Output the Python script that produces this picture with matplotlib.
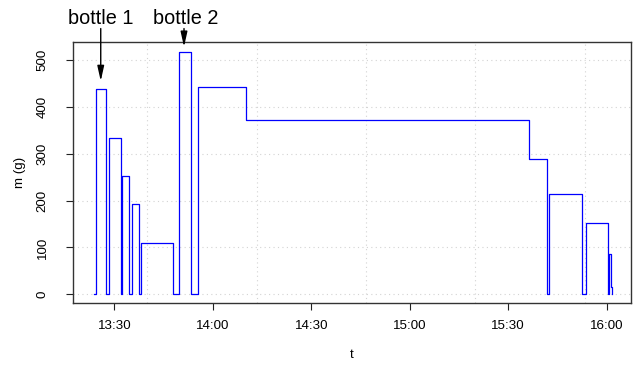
import matplotlib
matplotlib.use("Agg")
import matplotlib.pyplot as plt
import matplotlib.dates as mdates
import pandas as pd

plt.rcParams['font.family'] = ['Liberation Sans', 'DejaVu Sans']

day = "2020-01-01 "
times = ["13:23:44", "13:24:20", "13:27:28", "13:28:17", "13:31:57", "13:32:17",
         "13:34:34", "13:35:23", "13:37:37", "13:38:13", "13:47:47", "13:49:37",
         "13:53:27", "13:55:35", "14:10:07", "15:36:25", "15:41:48", "15:42:19",
         "15:52:33", "15:53:35", "16:00:17", "16:00:45", "16:01:18", "16:01:41"]
mass = [0, 437, 0, 333, 0, 253, 0, 193, 0, 109, 0, 518, 0, 443, 372, 288,
        0, 214, 0, 153, 0, 87, 15, 0]

tick_times = ["13:30", "14:00", "14:30", "15:00", "15:30", "16:00"]
grid_times = ["13:40:00", "14:13:20", "14:46:40", "15:20:00", "15:53:20"]
y_ticks = [0, 100, 200, 300, 400, 500]

labels = ["bottle 1", "bottle 2"]
label_x = ["13:25:45", "13:51:50"]
arrow_x = ["13:25:52", "13:51:14"]
arrow_tip = [455, 528]
arrow_start = 567
label_y = 576

t = pd.to_datetime([day + s for s in times])
fig = plt.figure(figsize=(6.35, 3.67), dpi=100)
ax = fig.add_axes([73/635, 1-303.3/367, (631-73)/635, (303.3-42.3)/367])

# grid
for g in grid_times:
    ax.axvline(pd.Timestamp(day + g), color='#d3d3d3', lw=0.8, ls=(0, (1, 3)), zorder=0)
for yv in y_ticks:
    ax.axhline(yv, color='#d3d3d3', lw=0.8, ls=(0, (1, 3)), zorder=0)

ax.plot(t, mass, drawstyle='steps-post', color='#0000ff', lw=0.9, zorder=2)

ax.set_xlim(pd.Timestamp(day + "13:17:25"), pd.Timestamp(day + "16:07:24"))
ax.set_ylim(-19.2, 537.7)

ax.set_xticks([pd.Timestamp(day + s) for s in tick_times])
ax.xaxis.set_major_formatter(mdates.DateFormatter('%H:%M'))
ax.set_yticks(y_ticks)
ax.set_yticklabels([str(v) for v in y_ticks], rotation=90, va='center')

ax.tick_params(axis='x', length=5, width=0.8, labelsize=9.6, pad=7.2, color='#222222')
ax.tick_params(axis='y', length=5, width=0.8, labelsize=9.6, pad=12.5, color='#222222')
for s in ax.spines.values():
    s.set_color('#333333')
    s.set_linewidth(1.0)

ax.set_ylabel('m (g)', fontsize=9.6, va='center')
ax.yaxis.set_label_coords(-0.095, 0.5)
ax.set_xlabel('t', fontsize=9.6, va='center')
ax.xaxis.set_label_coords(0.5, -0.2)

for lab, lx, axx, tip in zip(labels, label_x, arrow_x, arrow_tip):
    ax.text(pd.Timestamp(day + lx), label_y, lab, ha='center', va='baseline',
            fontsize=14.3, clip_on=False)
    ax.annotate('', xy=(pd.Timestamp(day + axx), tip),
                xytext=(pd.Timestamp(day + axx), arrow_start),
                arrowprops=dict(arrowstyle='-|>,head_length=0.9,head_width=0.2',
                                lw=1.0, color='black', mutation_scale=10,
                                shrinkA=0, shrinkB=0),
                annotation_clip=False)

fig.savefig('out.png', dpi=100)
